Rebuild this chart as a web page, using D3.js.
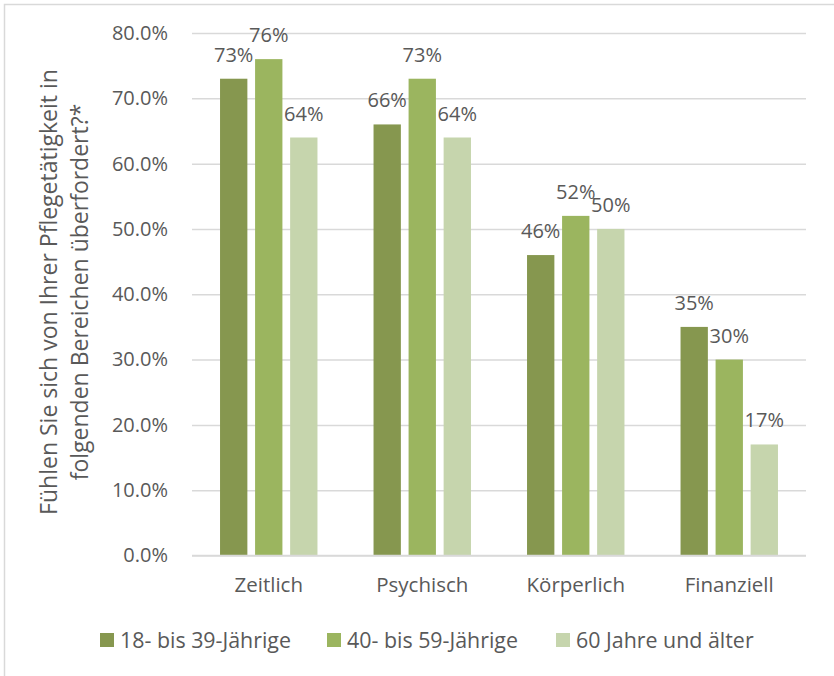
<!DOCTYPE html>
<html><head><meta charset="utf-8">
<script src="https://cdn.jsdelivr.net/npm/d3@7"></script>
<style>body{margin:0;background:#fff;} svg{display:block;font-family:"Open Sans",sans-serif;}</style>
</head><body>
<script>
const categories = ["Zeitlich","Psychisch","Körperlich","Finanziell"];
const seriesNames = ["18- bis 39-Jährige","40- bis 59-Jährige","60 Jahre und älter"];
const s1 = [73,66,46,35];
const s2 = [76,73,52,30];
const s3 = [64,64,50,17];
const yTicks = [0,10,20,30,40,50,60,70,80];
const yTitle = ["Fühlen Sie sich von Ihrer Pflegetätigkeit in","folgenden Bereichen überfordert?*"];
const colors = ["#86974f","#9bb55f","#c6d5ad"];
const series = [s1,s2,s3];

const W=834,H=676;
const svg=d3.select("body").append("svg").attr("width",W).attr("height",H);
svg.append("rect").attr("x",4.5).attr("y",4.5).attr("width",W+10).attr("height",H+10)
  .attr("fill","#fff").attr("stroke","#d9d9d9").attr("stroke-width",1.5);

const x0=192,x1=806,yTop=33,yBot=555.5;
const y=d3.scaleLinear().domain([0,80]).range([yBot,yTop]);
const xb=d3.scaleBand().domain(categories).range([x0,x1]).paddingInner(0).paddingOuter(0);
const xs=d3.scaleBand().domain(d3.range(3)).range([0,xb.bandwidth()]).paddingInner(0.22).paddingOuter(0.8);

const text="#595959";
// gridlines
const yAxis=d3.axisLeft(y).tickValues(yTicks).tickSize(-(x1-x0)).tickFormat(d=>d.toFixed(1)+"%");
const gA=svg.append("g").attr("transform",`translate(${x0},0)`).call(yAxis);
gA.select(".domain").remove();
gA.selectAll(".tick line").attr("stroke","#d9d9d9").attr("stroke-width",1.5);
gA.selectAll(".tick text").attr("x",-24).attr("fill",text).attr("font-size",20).attr("font-family","Open Sans");

// bars
series.forEach((s,i)=>{
  svg.append("g").selectAll("rect").data(s).join("rect")
    .attr("x",(d,j)=>xb(categories[j])+xs(i))
    .attr("width",xs.bandwidth())
    .attr("y",d=>y(d)).attr("height",d=>yBot-y(d))
    .attr("fill",colors[i]);
  svg.append("g").selectAll("text").data(s).join("text")
    .attr("x",(d,j)=>xb(categories[j])+xs(i)+xs.bandwidth()/2)
    .attr("y",d=>y(d)-17)
    .attr("text-anchor","middle").attr("fill",text).attr("font-size",20)
    .text(d=>d+"%");
});
// baseline
svg.append("line").attr("x1",x0).attr("x2",x1).attr("y1",yBot).attr("y2",yBot)
  .attr("stroke","#d9d9d9").attr("stroke-width",1.5);
// category labels
const xAxis=d3.axisBottom(xb).tickSize(0).tickPadding(0);
const gX=svg.append("g").attr("transform",`translate(0,${yBot})`).call(xAxis);
gX.select(".domain").remove();
gX.selectAll(".tick text").attr("y",22).attr("dy","0.71em").attr("fill",text).attr("font-size",20.5).attr("font-family","Open Sans");

// y title
const yt=svg.append("text").attr("transform","translate(0,292) rotate(-90)")
  .attr("text-anchor","middle").attr("fill",text).attr("font-size",23);
yTitle.forEach((t,i)=>yt.append("tspan").attr("x",0).attr("y",57+i*31).text(t));

// legend
const legX=[100,327,556];
seriesNames.forEach((n,i)=>{
  const g=svg.append("g").attr("transform",`translate(${legX[i]},640)`);
  g.append("rect").attr("x",0).attr("y",-7).attr("width",14).attr("height",14).attr("fill",colors[i]);
  g.append("text").attr("x",20).attr("y",0).attr("dy","0.35em").attr("fill",text).attr("font-size",21.4).text(n);
});
</script>
</body></html>
